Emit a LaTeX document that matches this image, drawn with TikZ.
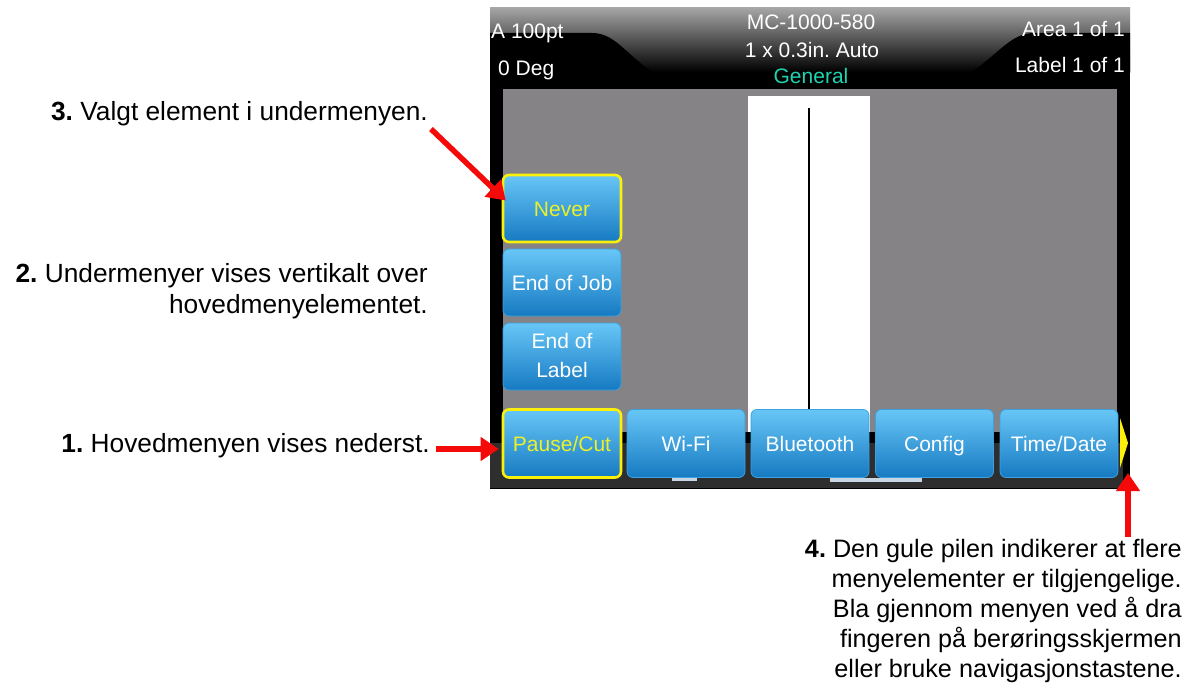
\documentclass[tikz,border=0pt]{standalone}
\usepackage{fontspec}
\setmainfont{Liberation Sans}
\newfontfamily\scrfont{Liberation Sans}
\usetikzlibrary{arrows.meta}
\frenchspacing
\definecolor{redA}{RGB}{245,10,10}
\definecolor{hdrgray}{RGB}{165,165,165}
\definecolor{scrgray}{RGB}{133,131,134}
\definecolor{band}{RGB}{46,46,46}
\definecolor{stripc}{RGB}{200,214,228}
\definecolor{btop}{RGB}{104,198,246}
\definecolor{bbot}{RGB}{22,122,194}
\definecolor{bline}{RGB}{60,160,225}
\definecolor{yel}{RGB}{250,240,10}
\definecolor{yeltxt}{RGB}{235,240,40}
\definecolor{cyanT}{RGB}{30,212,176}
\begin{document}
\frenchspacing
\begin{tikzpicture}[x=1pt,y=-1pt,
  btn/.style={rounded corners=6pt, minimum width=118pt, minimum height=67pt, inner sep=0pt,
    top color=btop, bottom color=bbot, draw=bline, line width=0.8pt, text=white,
    font=\scrfont\fontsize{21}{29}\selectfont, align=center, text height=16pt, text depth=1pt},
  sel/.style={draw=yel, line width=2.6pt, text=yeltxt},
  hdr/.style={font=\scrfont\fontsize{21}{25}\selectfont, text=white, inner sep=0pt},
  ann/.style={font=\fontsize{26.3}{31}\selectfont, align=right, inner sep=0pt, text=black},
  annB/.style={font=\fontsize{25.2}{29.8}\selectfont, align=right, inner sep=0pt, text=black},
  arr/.style={draw=redA, line width=5.5pt, -{Triangle[width=23pt,length=18pt]}}
]
\useasboundingbox (0,0) rectangle (1196,685);
\fill[white] (0,0) rectangle (1196,685);

% screen body
\fill[black] (490,8) rectangle (1130,489);
\shade[top color=hdrgray, bottom color=black] (490,8) rectangle (1130,72);
\fill[black] (490,33) -- (592,33) .. controls (614,33) and (624,52) .. (652,72) -- (490,72) -- cycle;
\fill[black] (1130,33) -- (1034,33) .. controls (1012,33) and (1000,52) .. (972,72) -- (1130,72) -- cycle;
\fill[scrgray] (503,89) rectangle (1117,432);
\fill[white] (748,96) rectangle (870,432);
\draw[black, line width=1.6pt] (809,108) -- (809,432);
\fill[band] (490,443) rectangle (1123,488);
\fill[stripc] (672,478) rectangle (697,481);
\fill[stripc] (830,478) rectangle (922,482);
\fill[yel] (1120,418) -- (1128,443) -- (1120,468) -- cycle;

% header texts
\node[hdr, anchor=base west] (a100) at (491,38) {A 100pt};
\node[hdr, anchor=base west] (deg) at (498,75) {0 Deg};
\node[hdr, anchor=base] (mc) at (811,30) {MC-1000-580};
\node[hdr, anchor=base] (size) at (812,57) {1 x 0.3in. Auto};
\node[hdr, anchor=base, text=cyanT] (gen) at (811,83) {General};
\node[hdr, anchor=base east] (area) at (1125,37) {Area 1 of 1};
\node[hdr, anchor=base east] (lab) at (1125,73) {Label 1 of 1};

% submenu buttons
\node[btn, sel] (never) at (562,208.5) {Never};
\node[btn] (endjob) at (562,282.5) {End of Job};
\node[btn, text height=45pt, text depth=3pt] (endlabel) at (562,356.5) {End of\\Label};

% main menu buttons
\node[btn, sel, minimum height=68pt] (pause) at (562,443.5) {Pause/Cut};
\node[btn, minimum height=68pt] (wifi) at (686,443.5) {Wi-Fi};
\node[btn, minimum height=68pt] (bt) at (810,443.5) {Bluetooth};
\node[btn, minimum height=68pt] (config) at (934.5,443.5) {Config};
\node[btn, minimum height=68pt] (timedate) at (1059,443.5) {Time/Date};

% annotations (base anchor = last line for multi-line nodes)
\node[ann, anchor=base east] (n3) at (428,120) {\textbf{3.} Valgt element i undermenyen.};
\node[ann, anchor=base east] (n2) at (428,313) {\textbf{2.} Undermenyer vises vertikalt over\\hovedmenyelementet.};
\node[ann, anchor=base east] (n1) at (430,452) {\textbf{1.} Hovedmenyen vises nederst.};
\node[annB, anchor=base east] (n4) at (1182,677) {\textbf{4.} Den gule pilen indikerer at flere\\menyelementer er tilgjengelige.\\Bla gjennom menyen ved å dra\\fingeren på berøringsskjermen\\eller bruke navigasjonstastene.};

% arrows
\coordinate (t1) at (436,449);
\draw[arr] (t1) -- ([xshift=-3pt]t1 -| pause.west);
\coordinate (t3) at (431,129);
\draw[arr] (t3) -- ([xshift=4pt,yshift=8pt]never.west);
\coordinate (t4) at (1128,537);
\coordinate (t4e) at (1128,473);
\draw[arr] (t4) -- (t4e);
\end{tikzpicture}
\end{document}
